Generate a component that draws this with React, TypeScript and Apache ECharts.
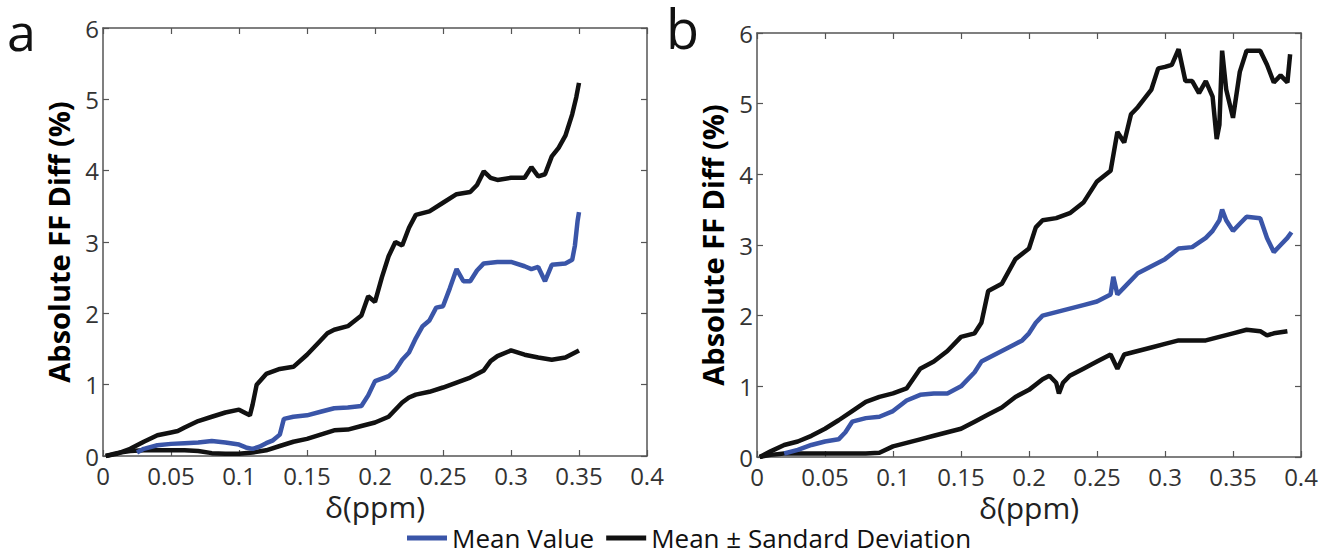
import React, { useEffect, useRef } from "react";
import * as echarts from "echarts";

const xTicks = [0, 0.05, 0.1, 0.15, 0.2, 0.25, 0.3, 0.35, 0.4];
const legendNames = ["Mean Value", "Mean ± Sandard Deviation"];

// Panel a
const aUpper: number[][] = [
  [0.002, 0], [0.01, 0.03], [0.02, 0.1], [0.03, 0.2], [0.04, 0.29], [0.05, 0.33], [0.055, 0.35],
  [0.06, 0.4], [0.07, 0.49], [0.08, 0.55], [0.09, 0.61], [0.1, 0.65], [0.105, 0.6], [0.108, 0.57],
  [0.11, 0.72], [0.113, 1.0], [0.12, 1.15], [0.13, 1.22], [0.14, 1.25], [0.15, 1.42], [0.16, 1.62],
  [0.165, 1.72], [0.17, 1.77], [0.18, 1.82], [0.19, 1.97], [0.195, 2.24], [0.2, 2.16], [0.205, 2.5],
  [0.21, 2.8], [0.215, 3.0], [0.22, 2.95], [0.225, 3.2], [0.23, 3.38], [0.24, 3.43], [0.25, 3.55],
  [0.26, 3.67], [0.27, 3.7], [0.275, 3.8], [0.28, 3.99], [0.285, 3.9], [0.29, 3.87], [0.3, 3.9],
  [0.31, 3.9], [0.315, 4.05], [0.32, 3.92], [0.325, 3.95], [0.33, 4.2], [0.335, 4.32], [0.34, 4.49],
  [0.345, 4.79], [0.348, 5.03], [0.35, 5.23],
];
const aMean: number[][] = [
  [0.025, 0.05], [0.03, 0.1], [0.04, 0.15], [0.05, 0.17], [0.06, 0.18], [0.07, 0.19], [0.08, 0.21],
  [0.09, 0.19], [0.1, 0.16], [0.105, 0.12], [0.11, 0.1], [0.115, 0.13], [0.12, 0.18], [0.125, 0.22],
  [0.13, 0.3], [0.133, 0.52], [0.14, 0.55], [0.15, 0.57], [0.16, 0.62], [0.17, 0.67], [0.18, 0.68],
  [0.19, 0.7], [0.195, 0.85], [0.2, 1.05], [0.21, 1.12], [0.215, 1.2], [0.22, 1.35], [0.225, 1.45],
  [0.23, 1.65], [0.235, 1.82], [0.24, 1.9], [0.245, 2.08], [0.25, 2.1], [0.255, 2.35], [0.26, 2.62],
  [0.265, 2.45], [0.27, 2.45], [0.275, 2.6], [0.28, 2.7], [0.29, 2.72], [0.3, 2.72], [0.31, 2.66],
  [0.315, 2.62], [0.32, 2.65], [0.325, 2.45], [0.33, 2.68], [0.34, 2.7], [0.345, 2.75], [0.347, 2.95],
  [0.349, 3.3], [0.35, 3.42],
];
const aLower: number[][] = [
  [0.002, 0], [0.01, 0.04], [0.02, 0.07], [0.03, 0.08], [0.04, 0.08], [0.05, 0.08], [0.06, 0.08],
  [0.07, 0.07], [0.08, 0.04], [0.09, 0.03], [0.1, 0.03], [0.11, 0.05], [0.12, 0.08], [0.13, 0.14],
  [0.14, 0.2], [0.15, 0.24], [0.16, 0.3], [0.17, 0.36], [0.18, 0.37], [0.19, 0.42], [0.2, 0.47],
  [0.21, 0.55], [0.22, 0.75], [0.225, 0.82], [0.23, 0.86], [0.24, 0.9], [0.25, 0.96], [0.26, 1.03],
  [0.27, 1.1], [0.28, 1.2], [0.285, 1.33], [0.29, 1.4], [0.3, 1.48], [0.31, 1.42], [0.32, 1.38],
  [0.33, 1.35], [0.34, 1.38], [0.345, 1.43], [0.35, 1.48],
];

// Panel b
const bUpper: number[][] = [
  [0.002, 0], [0.01, 0.08], [0.02, 0.17], [0.03, 0.22], [0.04, 0.3], [0.05, 0.4], [0.06, 0.52],
  [0.07, 0.65], [0.08, 0.78], [0.09, 0.85], [0.1, 0.9], [0.11, 0.97], [0.12, 1.25], [0.13, 1.35],
  [0.14, 1.5], [0.15, 1.7], [0.16, 1.75], [0.165, 1.9], [0.17, 2.35], [0.18, 2.45], [0.19, 2.8],
  [0.2, 2.95], [0.205, 3.25], [0.21, 3.35], [0.22, 3.38], [0.23, 3.45], [0.24, 3.6], [0.25, 3.9],
  [0.26, 4.05], [0.265, 4.6], [0.27, 4.45], [0.275, 4.85], [0.28, 4.95], [0.29, 5.2], [0.295, 5.5],
  [0.3, 5.52], [0.305, 5.55], [0.31, 5.77], [0.315, 5.32], [0.32, 5.32], [0.325, 5.15], [0.33, 5.32],
  [0.335, 5.1], [0.338, 4.5], [0.34, 4.7], [0.342, 5.75], [0.345, 5.2], [0.35, 4.8], [0.355, 5.45],
  [0.36, 5.75], [0.37, 5.75], [0.375, 5.55], [0.38, 5.3], [0.385, 5.4], [0.39, 5.3], [0.392, 5.7],
];
const bMean: number[][] = [
  [0.02, 0.05], [0.03, 0.1], [0.04, 0.17], [0.05, 0.22], [0.06, 0.25], [0.065, 0.35], [0.07, 0.5],
  [0.08, 0.55], [0.09, 0.57], [0.1, 0.65], [0.11, 0.8], [0.12, 0.88], [0.13, 0.9], [0.14, 0.9],
  [0.15, 1.0], [0.16, 1.2], [0.165, 1.35], [0.17, 1.4], [0.18, 1.5], [0.19, 1.6], [0.195, 1.65],
  [0.2, 1.75], [0.205, 1.9], [0.21, 2.0], [0.22, 2.05], [0.23, 2.1], [0.24, 2.15], [0.25, 2.2],
  [0.26, 2.3], [0.262, 2.55], [0.265, 2.3], [0.27, 2.4], [0.28, 2.6], [0.29, 2.7], [0.3, 2.8],
  [0.31, 2.95], [0.32, 2.97], [0.33, 3.1], [0.335, 3.2], [0.34, 3.35], [0.342, 3.5], [0.345, 3.35],
  [0.35, 3.2], [0.355, 3.3], [0.36, 3.4], [0.37, 3.38], [0.375, 3.1], [0.38, 2.9], [0.385, 3.0],
  [0.39, 3.1], [0.393, 3.18],
];
const bLower: number[][] = [
  [0.002, 0], [0.01, 0.03], [0.02, 0.05], [0.03, 0.05], [0.04, 0.05], [0.05, 0.05], [0.06, 0.05],
  [0.07, 0.05], [0.08, 0.05], [0.09, 0.06], [0.1, 0.15], [0.11, 0.2], [0.12, 0.25], [0.13, 0.3],
  [0.14, 0.35], [0.15, 0.4], [0.16, 0.5], [0.17, 0.6], [0.18, 0.7], [0.19, 0.85], [0.2, 0.95],
  [0.21, 1.1], [0.215, 1.15], [0.22, 1.05], [0.222, 0.9], [0.225, 1.05], [0.23, 1.15], [0.24, 1.25],
  [0.25, 1.35], [0.26, 1.45], [0.265, 1.25], [0.27, 1.45], [0.28, 1.5], [0.29, 1.55], [0.3, 1.6],
  [0.31, 1.65], [0.32, 1.65], [0.33, 1.65], [0.34, 1.7], [0.35, 1.75], [0.36, 1.8], [0.37, 1.78],
  [0.375, 1.72], [0.38, 1.75], [0.39, 1.78],
];

const BLUE = "#3a55a8";
const BLACK = "#111111";
const AXIS = "#555555";
const FONT = "'Open Sans', 'Noto Sans', sans-serif";

export default function App() {
  const ref = useRef<HTMLDivElement>(null);
  useEffect(() => {
    if (!ref.current) return;
    const chart = echarts.init(ref.current, undefined, { renderer: "svg" });
    const fmt = (v: number) => String(+v.toFixed(2));
    const axisLine = { show: true, onZero: false, lineStyle: { color: AXIS, width: 1.5 } };
    const axisTick = { show: true, inside: true, length: 6, lineStyle: { color: AXIS, width: 1.2 } };
    const mkX = (g: number) => [
      {
        type: "value", gridIndex: g, min: xTicks[0], max: xTicks[xTicks.length - 1], interval: 0.05,
        position: "bottom",
        name: "δ(ppm)", nameLocation: "middle", nameGap: 34,
        nameTextStyle: { fontSize: 30, lineHeight: 30, color: "#222", fontFamily: FONT },
        axisLine, axisTick,
        axisLabel: { formatter: fmt, fontSize: 24, lineHeight: 24, color: "#333", fontFamily: FONT, margin: 7 },
        splitLine: { show: false },
      },
      {
        type: "value", gridIndex: g, min: 0, max: 0.4, interval: 0.05, position: "top",
        axisLine, axisTick,
        axisLabel: { show: false }, splitLine: { show: false },
      },
    ];
    const mkY = (g: number) => [
      {
        type: "value", gridIndex: g, min: 0, max: 6, interval: 1, position: "left",
        name: "Absolute FF Diff (%)", nameLocation: "middle", nameGap: 30,
        nameTextStyle: { fontSize: 29, fontWeight: "bold", color: "#000", fontFamily: FONT },
        axisLine, axisTick,
        axisLabel: { fontSize: 24, color: "#333", fontFamily: FONT, margin: 4 },
        splitLine: { show: false },
      },
      {
        type: "value", gridIndex: g, min: 0, max: 6, interval: 1, position: "right",
        axisLine, axisTick,
        axisLabel: { show: false }, splitLine: { show: false },
      },
    ];
    const line = (name: string, data: number[][], color: string, xi: number, yi: number, w: number) => ({
      type: "line", name, data, xAxisIndex: xi, yAxisIndex: yi, showSymbol: false, symbol: "none",
      lineStyle: { color, width: w }, itemStyle: { color }, silent: true,
    });
    chart.setOption({
      animation: false,
      backgroundColor: "#fff",
      grid: [
        { left: 103, top: 28, width: 544, height: 428 },
        { left: 757, top: 33, width: 544, height: 424 },
      ],
      xAxis: [...mkX(0), ...mkX(1)],
      yAxis: [...mkY(0), ...mkY(1)],
      legend: {
        data: legendNames,
        left: 405, top: 521,
        padding: 2,
        icon: "rect", itemWidth: 40, itemHeight: 5, itemGap: 12,
        textStyle: { fontSize: 26, lineHeight: 30, color: "#111", fontFamily: FONT },
      },
      graphic: [
        { type: "text", left: 7, top: 4, style: { text: "a", fontSize: 52, lineHeight: 48, fill: "#111", fontFamily: FONT } },
        { type: "text", left: 666, top: 1, style: { text: "b", fontSize: 54, lineHeight: 46, fill: "#111", fontFamily: FONT } },
      ],
      series: [
        line(legendNames[1], aUpper, BLACK, 0, 0, 4.5),
        line(legendNames[1], aLower, BLACK, 0, 0, 4.5),
        line(legendNames[0], aMean, BLUE, 0, 0, 4.5),
        line(legendNames[1], bUpper, BLACK, 2, 2, 4.5),
        line(legendNames[1], bLower, BLACK, 2, 2, 4.5),
        line(legendNames[0], bMean, BLUE, 2, 2, 4.5),
      ],
    });
    return () => chart.dispose();
  }, []);
  return (
    <div
      ref={ref}
      style={{ position: "fixed", left: 0, top: 0, width: 1332, height: 555, background: "#fff" }}
    />
  );
}
